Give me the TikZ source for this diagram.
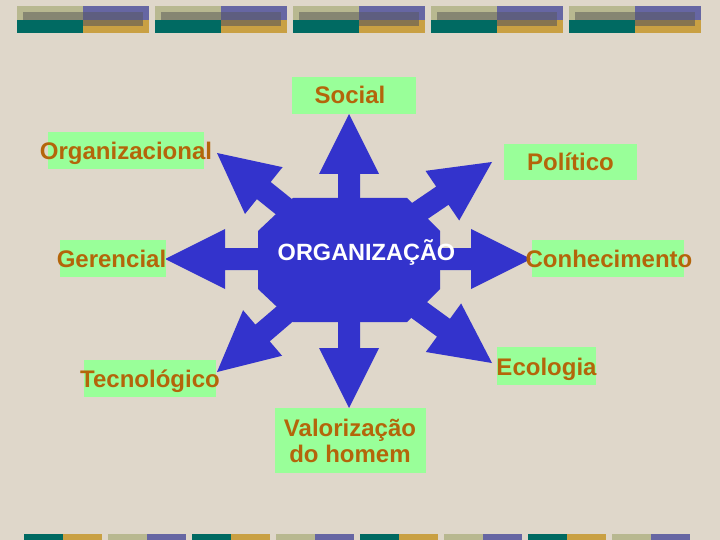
\documentclass[tikz,border=0pt]{standalone}
\usepackage{fontspec}
\setmainfont{Liberation Sans}
\usepackage{xcolor}
\usepackage{tikz}
\usetikzlibrary{calc}

\definecolor{fondo}{HTML}{DFD7CA}
\definecolor{azul}{HTML}{3333CC}
\definecolor{verde}{HTML}{99FF99}
\definecolor{naranja}{HTML}{B4650A}
\definecolor{oliva}{HTML}{B8B890}
\definecolor{violeta}{HTML}{6666A3}
\definecolor{petroleo}{HTML}{006A62}
\definecolor{ocre}{HTML}{C9A043}
\definecolor{olivaosc}{HTML}{868672}
\definecolor{violetaosc}{HTML}{5E5E80}
\definecolor{ocreosc}{HTML}{86744F}

\tikzset{
  etiqueta/.style={text=naranja, font=\bfseries\fontsize{24}{26}\selectfont, inner sep=0pt, anchor=base},
  caja/.style={fill=verde}
}

% flecha gruesa del centro #1 a la punta #2
\newcommand{\flechagrande}[2]{%
  \coordinate (cabeza) at ($(#2)!60pt!(#1)$);
  \fill[azul] ($(#1)!11pt!90:(#2)$) -- ($(cabeza)!11pt!90:(#2)$) -- ($(cabeza)!30pt!90:(#2)$) -- (#2)
    -- ($(cabeza)!30pt!-90:(#2)$) -- ($(cabeza)!11pt!-90:(#2)$) -- ($(#1)!11pt!-90:(#2)$) -- cycle;}

\begin{document}
\begin{tikzpicture}[x=1pt, y=-1pt]
			\fill[fondo] (0,0) rectangle (720,540);
			\useasboundingbox (0,0) rectangle (720,540);
			
			%barras de arriba
			\foreach \x in {17,155,293,431,569} {
				\fill[oliva] (\x,6) rectangle ++(66,14);
				\fill[violeta] (\x+66,6) rectangle ++(66,14);
				\fill[petroleo] (\x,20) rectangle ++(66,13);
				\fill[ocre] (\x+66,20) rectangle ++(66,13);
				\fill[olivaosc] (\x+6,12) rectangle ++(60,8);
				\fill[violetaosc] (\x+66,12) rectangle ++(60,8);
				\fill[ocreosc] (\x+66,20) rectangle ++(60,6);
			}
			
			%barras de abajo
			\foreach \x in {24,192,360,528} {
				\fill[petroleo] (\x,534) rectangle ++(39,6);
				\fill[ocre] (\x+39,534) rectangle ++(39,6);
				\fill[oliva] (\x+84,534) rectangle ++(39,6);
				\fill[violeta] (\x+123,534) rectangle ++(39,6);
			}
			
			%centro y puntas
			\coordinate (centro) at (349,259);
			\coordinate (pSocial) at (349,114);
			\coordinate (pValorizacao) at (349,408);
			\coordinate (pGerencial) at (165,259);
			\coordinate (pConhecimento) at (531,259);
			\coordinate (pOrganizacional) at (217,153);
			\coordinate (pPolitico) at (492,162);
			\coordinate (pTecnologico) at (217,372);
			\coordinate (pEcologia) at (492,363);
			
			\foreach \p in {Social,Valorizacao,Gerencial,Conhecimento,Organizacional,Politico,Tecnologico,Ecologia}
				\flechagrande{centro}{p\p};
			
			%octogono
			\fill[azul] (293,198) -- (407,198) -- (440,231) -- (440,289) -- (407,322) -- (293,322) -- (258,289) -- (258,231) -- cycle;
			\node[text=white, font=\bfseries\fontsize{23.5}{26}\selectfont, inner sep=0pt, anchor=base] (organizacao) at (366.5,260) {ORGANIZAÇÃO};
			
			%cajas verdes
			\fill[caja] (292,77) rectangle (416,114);
			\fill[caja] (48,132) rectangle (204,169);
			\fill[caja] (504,144) rectangle (637,180);
			\fill[caja] (60,240) rectangle (166,277);
			\fill[caja] (532,240) rectangle (684,277);
			\fill[caja] (84,360) rectangle (216,397);
			\fill[caja] (497,347) rectangle (596,385);
			\fill[caja] (275,408) rectangle (426,473);
			
			%textos
			\node[etiqueta] (social) at (350,104) {Social};
			\node[etiqueta] (organizacional) at (126,160) {Organizacional};
			\node[etiqueta] (politico) at (570.5,171) {Político};
			\node[etiqueta] (gerencial) at (111.5,267) {Gerencial};
			\node[etiqueta] (conhecimento) at (609,267) {Conhecimento};
			\node[etiqueta] (tecnologico) at (150,387) {Tecnológico};
			\node[etiqueta] (ecologia) at (546.5,375) {Ecologia};
			\node[etiqueta, anchor=center, align=center] (valorizacao) at (350,441) {Valorização\\do homem};
\end{tikzpicture}
\end{document}
